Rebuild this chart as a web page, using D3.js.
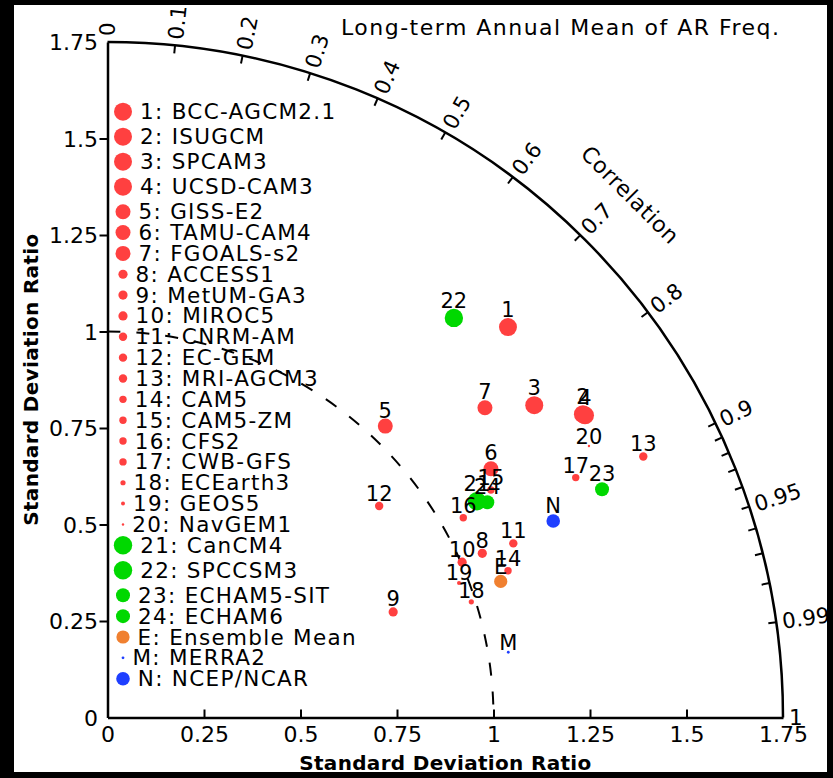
<!DOCTYPE html>
<html><head><meta charset="utf-8">
<script src="https://cdn.jsdelivr.net/npm/d3@7"></script>
<style>
body{margin:0;background:#000}
svg{display:block}
text{font-family:"DejaVu Sans",Verdana,sans-serif}
</style>
</head><body>
<svg id="chart" width="833" height="778"></svg>
<script>
// ---------------- data ----------------
const ids = ["1","2","3","4","5","6","7","8","9","10","11","12","13","14","15","16","17","18","19","20","21","22","23","24","E","M","N"];
const models = ["BCC-AGCM2.1","ISUGCM","SPCAM3","UCSD-CAM3","GISS-E2","TAMU-CAM4","FGOALS-s2","ACCESS1","MetUM-GA3","MIROC5","CNRM-AM","EC-GEM","MRI-AGCM3","CAM5","CAM5-ZM","CFS2","CWB-GFS","ECEarth3","GEOS5","NavGEM1","CanCM4","SPCCSM3","ECHAM5-SIT","ECHAM6","Ensemble Mean","MERRA2","NCEP/NCAR"];
const stdRatio = [1.449,1.461,1.370,1.464,1.043,1.184,1.265,1.060,0.789,1.003,1.144,0.892,1.544,1.105,1.155,1.057,1.363,0.989,0.975,1.432,1.109,1.370,1.411,1.131,1.078,1.052,1.262];
const correlation = [0.716,0.843,0.807,0.845,0.690,0.839,0.773,0.916,0.938,0.916,0.919,0.789,0.899,0.939,0.860,0.872,0.890,0.953,0.934,0.871,0.863,0.655,0.908,0.870,0.945,0.987,0.915];
const groups = ["AGCM","AGCM","AGCM","AGCM","AGCM","AGCM","AGCM","AGCM","AGCM","AGCM","AGCM","AGCM","AGCM","AGCM","AGCM","AGCM","AGCM","AGCM","AGCM","AGCM","CGCM","CGCM","CGCM","CGCM","Ensemble","MERRA2","NCEP"];
const sizeRank = [1,1,1,1,2,2,2,3,3,3,4,4,4,5,5,5,5,6,7,8,0,0,9,9,10,11,12];
const stdTicks = [0,0.25,0.5,0.75,1,1.25,1.5,1.75];
const corrMajor = [0,0.1,0.2,0.3,0.4,0.5,0.6,0.7,0.8,0.9,0.95,0.99,1];
const corrMinor = [0.91,0.92,0.93,0.94,0.96,0.97,0.98];
const title = "Long-term Annual Mean of AR Freq.";
const axisTitle = "Standard Deviation Ratio";

// ---------------- styles ----------------
const colorScale = d3.scaleOrdinal()
  .domain(["AGCM","CGCM","Ensemble","MERRA2","NCEP"])
  .range(["#ff4040","#00d800","#f08030","#1f3fff","#1f3fff"]);
const radiusScale = d3.scaleOrdinal()
  .domain(d3.range(13))
  .range([9.2,9,7.5,4.6,4.2,3.7,2.6,2,1.2,7,6.6,1.4,6.8]);

const svg = d3.select("#chart");
svg.append("rect").attr("width",833).attr("height",778).attr("fill","#000");
svg.append("rect").attr("x",14).attr("y",5).attr("width",813).attr("height",767).attr("fill","#fff");

const x = d3.scaleLinear().domain([0,1.75]).range([107.5,783]);
const y = d3.scaleLinear().domain([0,1.75]).range([717.5,42]);
const cx = x(0), cy = y(0);
const R = x(1.75) - x(0);
const unit = x(1) - x(0);

// ---------------- axes ----------------
const gx = svg.append("g").attr("transform",`translate(0,${cy})`)
  .call(d3.axisBottom(x).tickValues(stdTicks).tickSizeInner(-8).tickSizeOuter(0).tickPadding(9)
        .tickFormat(d => d3.format("")(d)));
const gy = svg.append("g").attr("transform",`translate(${cx},0)`)
  .call(d3.axisLeft(y).tickValues(stdTicks).tickSizeInner(8).tickSizeOuter(0).tickPadding(1.5)
        .tickFormat(d => d3.format("")(d)));
[gx,gy].forEach(g => {
  g.attr("font-family",null).attr("font-size",22);
  g.select(".domain").attr("stroke","#000").attr("stroke-width",2.5);
  g.selectAll(".tick line").attr("stroke","#000").attr("stroke-width",2)
    .filter(d => d === 0 || d === 1.75).remove();
  g.selectAll(".tick text").attr("fill","#000");
});
gy.selectAll(".tick text").attr("dy","0.36em");

// ---------------- outer correlation arc ----------------
const arcPath = d3.path();
arcPath.arc(cx, cy, R, -Math.PI/2, 0);
svg.append("path").attr("d",arcPath.toString()).attr("fill","none").attr("stroke","#000").attr("stroke-width",2.5);

const tickG = svg.append("g");
corrMajor.concat(corrMinor).filter(c => c > 0 && c < 1).forEach(c => {
  const t = Math.acos(c);
  tickG.append("line")
    .attr("x1", cx + (R-8)*Math.cos(t)).attr("y1", cy - (R-8)*Math.sin(t))
    .attr("x2", cx + R*Math.cos(t)).attr("y2", cy - R*Math.sin(t))
    .attr("stroke","#000").attr("stroke-width",2);
});
corrMajor.forEach(c => {
  const t = Math.acos(c), rr = R + 6;
  tickG.append("text")
    .attr("transform",`translate(${cx + rr*Math.cos(t)},${cy - rr*Math.sin(t)}) rotate(${-t*180/Math.PI})`)
    .attr("font-size",21.5).attr("dominant-baseline","central").attr("text-anchor","start")
    .text(c);
});
svg.append("text")
  .attr("transform",`translate(${cx + 739*Math.cos(Math.PI/4)},${cy - 739*Math.sin(Math.PI/4)}) rotate(45)`)
  .attr("font-size",22).attr("letter-spacing",0.6).attr("text-anchor","middle").attr("dominant-baseline","central")
  .text("Correlation");

// ---------------- reference dashed arc (ratio = 1) ----------------
const refPath = d3.path();
refPath.arc(cx, cy, unit, -Math.PI/2, 0);
svg.append("path").attr("d",refPath.toString()).attr("fill","none").attr("stroke","#000")
  .attr("stroke-width",2).attr("stroke-dasharray","13,16");

// ---------------- titles ----------------
svg.append("text").attr("x",341).attr("y",35).attr("font-size",22)
  .attr("textLength",438).text(title);
svg.append("text").attr("x",(x(0)+x(1.75))/2).attr("y",770).attr("text-anchor","middle")
  .attr("font-size",20).attr("font-weight","bold").attr("textLength",292).text(axisTitle);
svg.append("text").attr("transform",`translate(38,${(y(0)+y(1.75))/2}) rotate(-90)`).attr("text-anchor","middle")
  .attr("font-size",20).attr("font-weight","bold").attr("textLength",292).text(axisTitle);

// ---------------- legend ----------------
const legendRows = [];
let ly = 111.7;
ids.forEach((id,i) => {
  legendRows.push(ly);
  ly += radiusScale(sizeRank[i]) >= 9 ? 25 : 20.85;
});
const lg = svg.append("g");
ids.forEach((id,i) => {
  const r = radiusScale(sizeRank[i]);
  lg.append("circle").attr("cx",123).attr("cy",legendRows[i]).attr("r",r).attr("fill",colorScale(groups[i]));
  lg.append("text").attr("x",131 + r).attr("y",legendRows[i]).attr("dominant-baseline","central")
    .attr("font-size",21.5).attr("letter-spacing",1.3).text(`${id}: ${models[i]}`);
});

// ---------------- points ----------------
const pts = ids.map((id,i) => {
  const c = correlation[i], s = stdRatio[i];
  return {id, px: x(s*c), py: y(s*Math.sqrt(1-c*c)), r: radiusScale(sizeRank[i]), color: colorScale(groups[i])};
});
const pg = svg.append("g");
pg.selectAll("circle").data(pts).join("circle")
  .attr("cx",d => d.px).attr("cy",d => d.py).attr("r",d => d.r).attr("fill",d => d.color);
pg.selectAll("text").data(pts).join("text")
  .attr("x",d => d.px).attr("y",d => d.py - d.r - 1).attr("text-anchor","middle")
  .attr("font-size",21).text(d => d.id);
</script>
</body></html>
